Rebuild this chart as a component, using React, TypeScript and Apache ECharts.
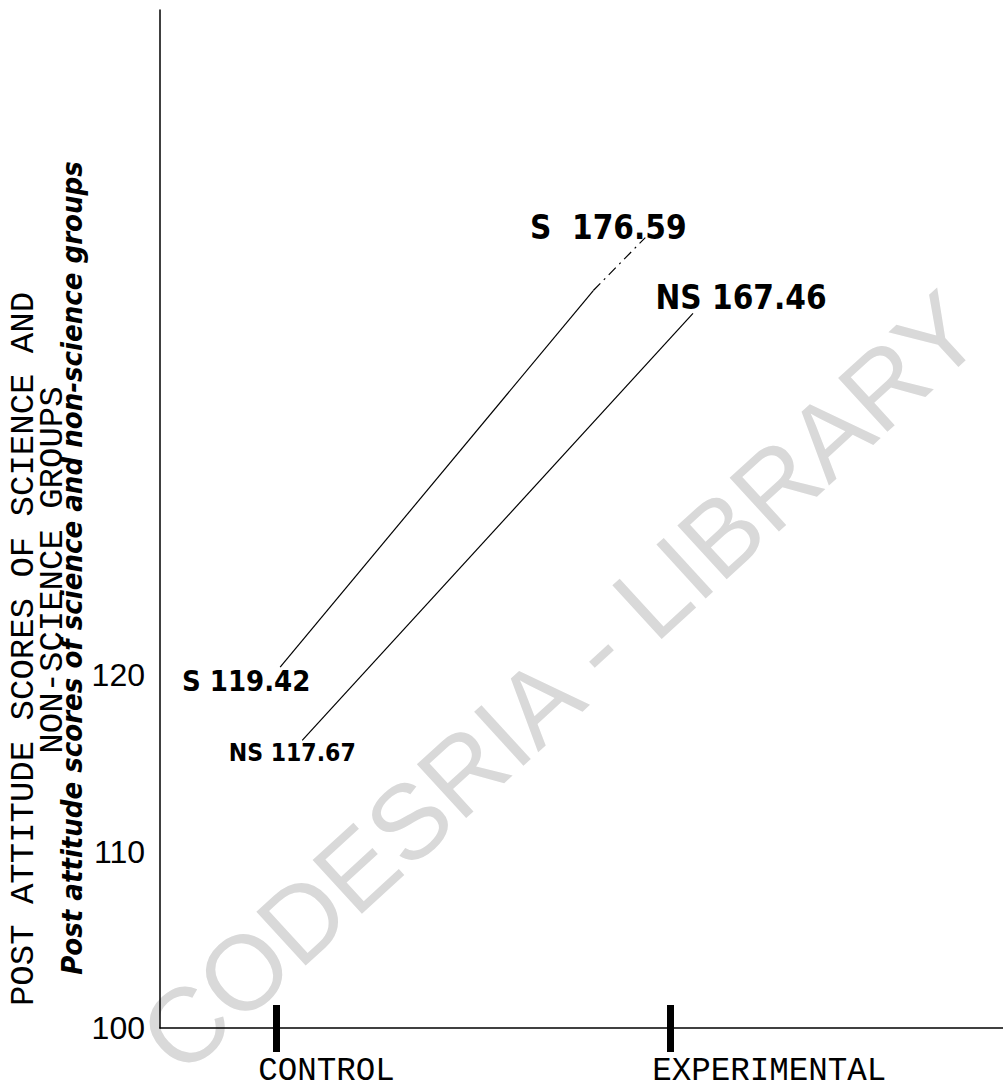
import React, { useEffect, useRef } from "react";
import * as echarts from "echarts";

// Groups on the x axis (positions in axis units: CONTROL = 1, EXPERIMENTAL = 2)
const groupNames = ["CONTROL", "EXPERIMENTAL"];
const groupPositions = [1, 2];

// Reported scores (annotations)
const scienceScores = [119.42, 176.59];
const nonScienceScores = [117.67, 167.46];
const scienceLabels = ["S 119.42", "S  176.59"];
const nonScienceLabels = ["NS 117.67", "NS 167.46"];

// Plotted line endpoints (x in group units, y in score units)
const scienceLineX = [1.01, 1.805, 1.937];
const scienceLineY = [120.45, 141.8, 144.8];
const nonScienceLineX = [1.066, 2.058];
const nonScienceLineY = [116.3, 140.5];

// Y axis tick labels
const yTickValues = [100, 110, 120];

const yTitle1 = "POST ATTITUDE SCORES OF SCIENCE AND";
const yTitle2 = "NON-SCIENCE GROUPS";
const yTitle3 = "Post attitude scores of science and non-science groups";
const watermark = "CODESRIA - LIBRARY";

const mono = "'Liberation Mono', 'DejaVu Sans Mono', monospace";
const heavy = "'Liberation Sans Narrow', 'DejaVu Sans Condensed', 'Liberation Sans', sans-serif";

export default function App() {
  const ref = useRef<HTMLDivElement>(null);
  useEffect(() => {
    if (!ref.current) return;
    const chart = echarts.init(ref.current, null, { renderer: "svg" });
    const lbl = (text: string, size: number, off: number[]) => ({
      show: true,
      position: "inside",
      offset: off,
      formatter: () => text,
      color: "#000",
      fontFamily: heavy,
      fontWeight: 900,
      fontSize: size,
    });
    const sData = [
      { value: [scienceLineX[0], scienceLineY[0]], label: lbl(scienceLabels[0], 29, [-34, 14]) },
      { value: [scienceLineX[1], scienceLineY[1]] },
    ];
    const sDashData = [
      { value: [scienceLineX[1], scienceLineY[1]] },
      { value: [scienceLineX[2], scienceLineY[2]], label: lbl(scienceLabels[1], 33, [-37, -10]) },
    ];
    const nsData = [
      { value: [nonScienceLineX[0], nonScienceLineY[0]], label: lbl(nonScienceLabels[0], 24.5, [-10, 12]) },
      { value: [nonScienceLineX[1], nonScienceLineY[1]], label: lbl(nonScienceLabels[1], 33, [48, -16]) },
    ];
    const baseSeries = {
      type: "line",
      symbol: "circle",
      symbolSize: 1,
      itemStyle: { color: "rgba(0,0,0,0)" },
      silent: true,
    };
    const xMin = 0.705;
    const xMax = 2.845;
    chart.setOption({
      animation: false,
      backgroundColor: "#fff",
      grid: { left: 160, right: 0, top: 10, bottom: 63 },
      xAxis: [
        {
          type: "value",
          min: xMin,
          max: xMax,
          splitLine: { show: false },
          axisLine: { show: true, lineStyle: { color: "#000", width: 1.5 } },
          axisTick: {
            show: true,
            customValues: groupPositions,
            length: 24,
            lineStyle: { color: "#000", width: 7 },
          },
          axisLabel: {
            show: true,
            customValues: groupPositions,
            formatter: (v: number) => groupNames[groupPositions.indexOf(Math.round(v))] ?? "",
            align: "left",
            margin: 27,
            color: "#000",
            fontFamily: mono,
            fontSize: 32.5,
            padding: [0, 0, 0, -18],
          },
        },
        {
          type: "value",
          min: xMin,
          max: xMax,
          position: "bottom",
          splitLine: { show: false },
          axisLine: { show: false },
          axisTick: {
            show: true,
            inside: true,
            customValues: groupPositions,
            length: 23,
            lineStyle: { color: "#000", width: 7 },
          },
          axisLabel: { show: false },
        },
      ],
      yAxis: {
        type: "value",
        min: 100,
        max: 157.7,
        splitLine: { show: false },
        axisLine: { show: true, lineStyle: { color: "#000", width: 1.5 } },
        axisTick: { show: false },
        axisLabel: {
          show: true,
          customValues: yTickValues,
          margin: 15,
          color: "#000",
          fontFamily: "'Liberation Sans', Arial, sans-serif",
          fontSize: 32,
        },
      },
      graphic: [
        {
          type: "text",
          x: 560,
          y: 682,
          rotation: (42.5 * Math.PI) / 180,
          z: -10,
          style: {
            text: watermark,
            fill: "#d9d9d9",
            font: "106px 'Liberation Sans', Arial, sans-serif",
            align: "center",
            verticalAlign: "middle",
          },
        },
        {
          type: "text",
          x: 24,
          y: 649,
          rotation: Math.PI / 2,
          style: {
            text: yTitle1,
            fill: "#000",
            font: "34px " + mono,
            align: "center",
            verticalAlign: "middle",
          },
        },
        {
          type: "text",
          x: 53,
          y: 570,
          rotation: Math.PI / 2,
          style: {
            text: yTitle2,
            fill: "#000",
            font: "34px " + mono,
            align: "center",
            verticalAlign: "middle",
          },
        },
        {
          type: "text",
          x: 72,
          y: 568,
          rotation: Math.PI / 2,
          style: {
            text: yTitle3,
            fill: "#000",
            font: "italic 900 29px " + heavy,
            align: "center",
            verticalAlign: "middle",
          },
        },
      ],
      series: [
        {
          ...baseSeries,
          name: "S",
          data: sData,
          lineStyle: { color: "#000", width: 1.2 },
        },
        {
          ...baseSeries,
          name: "S (upper)",
          data: sDashData,
          lineStyle: { color: "#000", width: 1.2, type: [10, 5, 2, 5] },
        },
        {
          ...baseSeries,
          name: "NS",
          data: nsData,
          lineStyle: { color: "#000", width: 1.2 },
        },
      ],
    });
    return () => chart.dispose();
  }, []);
  return (
    <div
      ref={ref}
      style={{ position: "fixed", left: 0, top: 0, width: 1003, height: 1091, background: "#fff" }}
    />
  );
}
